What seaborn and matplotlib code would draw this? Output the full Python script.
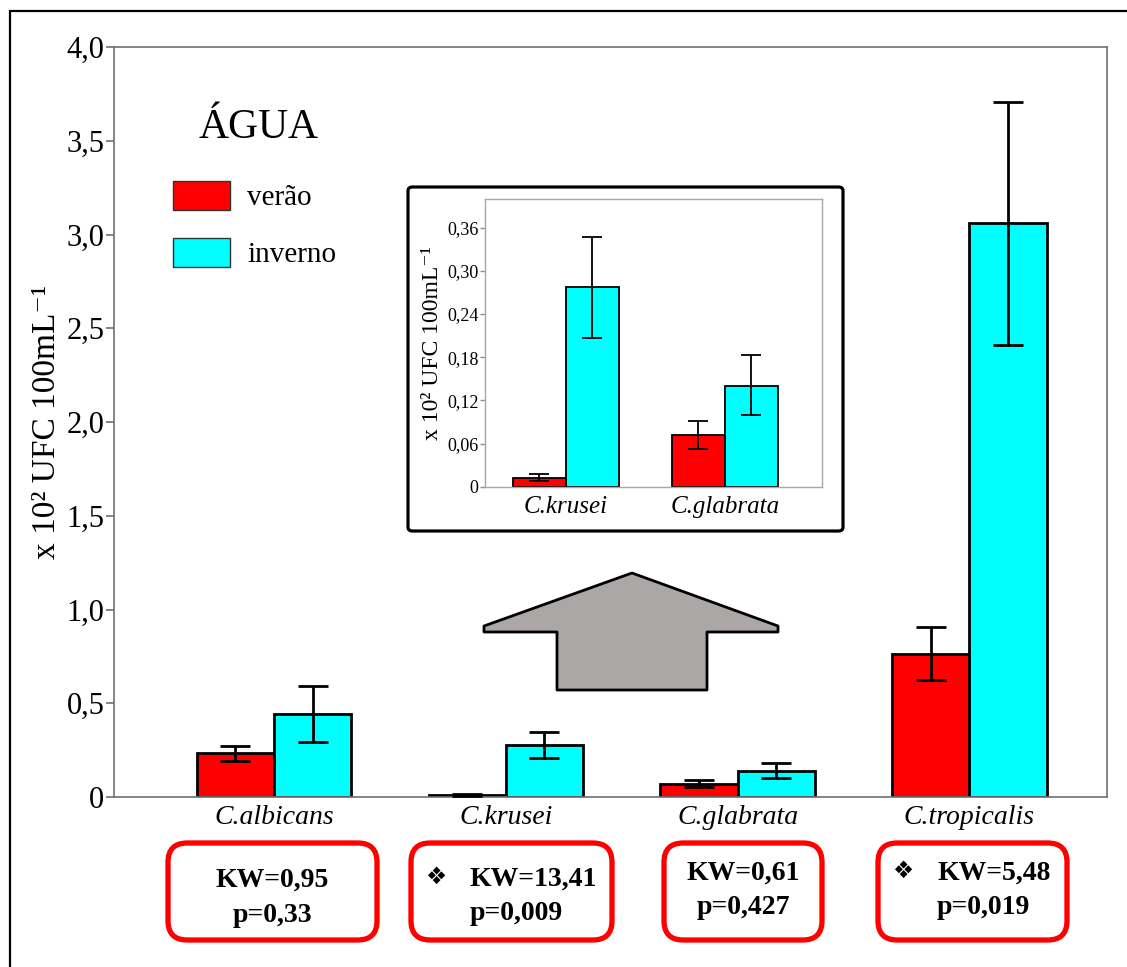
import numpy as np
import pandas as pd
import matplotlib
matplotlib.use("Agg")
import matplotlib.pyplot as plt
import seaborn as sns
from matplotlib.patches import Patch, FancyBboxPatch, Rectangle, Polygon

# ---------------- data ----------------
categories = ["C.albicans", "C.krusei", "C.glabrata", "C.tropicalis"]
seasons = ["verão", "inverno"]
verao_mean = [0.236, 0.0125, 0.072, 0.761]
verao_low = [0.192, 0.008, 0.053, 0.622]
verao_high = [0.274, 0.017, 0.092, 0.908]
inverno_mean = [0.441, 0.278, 0.140, 3.060]
inverno_low = [0.292, 0.207, 0.099, 2.411]
inverno_high = [0.594, 0.347, 0.183, 3.707]
inset_categories = ["C.krusei", "C.glabrata"]
main_yticks = [0, 0.5, 1.0, 1.5, 2.0, 2.5, 3.0, 3.5, 4.0]
main_yticklabels = ["0", "0,5", "1,0", "1,5", "2,0", "2,5", "3,0", "3,5", "4,0"]
inset_yticks = [0, 0.06, 0.12, 0.18, 0.24, 0.30, 0.36]
inset_yticklabels = ["0", "0,06", "0,12", "0,18", "0,24", "0,30", "0,36"]
kw_lines = ["KW=0,95", "KW=13,41", "KW=0,61", "KW=5,48"]
p_lines = ["p=0,33", "p=0,009", "p=0,427", "p=0,019"]
significant = [False, True, False, True]
title_text = "ÁGUA"
ylabel_text = "x 10\u00b2 UFC 100mL\u207b\u00b9"

colors = ["#ff0000", "#00ffff"]

df = pd.DataFrame({
    "especie": categories * 2,
    "estacao": [seasons[0]] * 4 + [seasons[1]] * 4,
    "valor": verao_mean + inverno_mean,
    "low": verao_low + inverno_low,
    "high": verao_high + inverno_high,
})

sns.set_style("white")
plt.rcParams["font.family"] = ["Liberation Serif", "DejaVu Serif", "DejaVu Sans"]
for k in ["text.color", "axes.labelcolor", "xtick.labelcolor", "ytick.labelcolor"]:
    plt.rcParams[k] = "black"

W, H = 1127, 967
fig = plt.figure(figsize=(W / 100, H / 100), dpi=100)
fig.patch.set_facecolor("white")


def fx(px):
    return px / W


def fy(py):
    return 1 - py / H


def draw(ax, data, cats, width, edge_lw, err_lw, capsize):
    sns.barplot(data=data, x="especie", y="valor", hue="estacao", order=cats,
                hue_order=seasons, palette=colors, saturation=1, width=width, gap=0,
                edgecolor="black", linewidth=edge_lw, errorbar=None,
                legend=False, ax=ax, zorder=2)
    for cont, s in zip(ax.containers, seasons):
        sub = data[data["estacao"] == s].set_index("especie").loc[cats]
        xs = [b.get_x() + b.get_width() / 2 for b in cont]
        m = sub["valor"].values
        lo = m - sub["low"].values
        hi = sub["high"].values - m
        ax.errorbar(xs, m, yerr=[lo, hi], fmt="none", ecolor="black",
                    elinewidth=err_lw, capsize=capsize, capthick=err_lw, zorder=3)


# ---------------- main axes ----------------
ax = fig.add_axes([fx(114), fy(797), fx(1107) - fx(114), fy(47) - fy(797)])
draw(ax, df, categories, 0.667, 2.0, 2.0, 11)
ax.set_xlim(-0.6906, 3.594)
ax.set_ylim(0, 4.0)
ax.set_yticks(main_yticks)
ax.set_yticklabels(main_yticklabels, fontsize=22)
ax.tick_params(axis="y", left=True, direction="out", length=6, width=1.2,
               color="#707070", labelcolor="black", pad=1)
ax.tick_params(axis="x", bottom=False, length=0, pad=6, labelcolor="black")
for lab in ax.get_xticklabels():
    lab.set_fontsize(20)
    lab.set_fontstyle("italic")
ax.set_xlabel("")
ax.set_ylabel(ylabel_text, fontsize=24, labelpad=3, color="black")
for sp in ax.spines.values():
    sp.set_color("#707070")
    sp.set_linewidth(1.2)
    sp.set_visible(True)

# legend
fpx = 21 * 100 / 72
leg = ax.legend(handles=[Patch(facecolor=c, edgecolor="#333333", linewidth=1.0) for c in colors],
                labels=seasons, loc="upper left",
                bbox_to_anchor=(fx(173), fy(181)), bbox_transform=fig.transFigure,
                frameon=False, borderpad=0, borderaxespad=0, fontsize=21,
                handlelength=57 / fpx, handleheight=33 / fpx,
                handletextpad=17 / fpx, labelspacing=27 / fpx)
for t in leg.get_texts():
    t.set_color("black")
fig.text(fx(259), fy(128), title_text, fontsize=30, ha="center", va="center", color="black")

# ---------------- arrow ----------------
arrow_pts = [(632, 573), (778, 626), (778, 632), (707, 632), (707, 690),
             (557, 690), (557, 632), (484, 632), (484, 626)]
fig.patches.append(Polygon([(fx(x), fy(y)) for x, y in arrow_pts], closed=True,
                           transform=fig.transFigure, facecolor="#aba7a7",
                           edgecolor="black", linewidth=2.0, joinstyle="round", zorder=5))

# ---------------- inset ----------------
fig.patches.append(FancyBboxPatch((fx(408), fy(531)), fx(843) - fx(408), fy(187) - fy(531),
                                  boxstyle="round,pad=0,rounding_size=0.004",
                                  transform=fig.transFigure, facecolor="white",
                                  edgecolor="black", linewidth=2.3, zorder=6))
iax = fig.add_axes([fx(485), fy(486.7), fx(822.3) - fx(485), fy(199) - fy(486.7)])
iax.set_zorder(10)
df_in = df[df["especie"].isin(inset_categories)]
draw(iax, df_in, inset_categories, 0.667, 1.3, 1.3, 7.5)
iax.set_xlim(-0.509, 1.612)
iax.set_ylim(0, 0.40)
iax.set_yticks(inset_yticks)
iax.set_yticklabels(inset_yticklabels, fontsize=13)
iax.tick_params(axis="y", left=True, direction="out", length=3.5, width=1.0,
                color="#909090", labelcolor="black", pad=1)
iax.tick_params(axis="x", bottom=False, length=0, pad=6.5, labelcolor="black")
for lab in iax.get_xticklabels():
    lab.set_fontsize(18)
    lab.set_fontstyle("italic")
iax.set_xlabel("")
iax.set_ylabel(ylabel_text, fontsize=17, labelpad=3, color="black")
for sp in iax.spines.values():
    sp.set_color("#a8a8a8")
    sp.set_linewidth(1.0)
    sp.set_visible(True)

# ---------------- statistic boxes ----------------
boxes = [(168, 377), (411, 612), (664, 822), (878, 1067)]
for (x0, x1), kw, p, sig in zip(boxes, kw_lines, p_lines, significant):
    fig.patches.append(FancyBboxPatch((fx(x0), fy(940)), fx(x1) - fx(x0), fy(843) - fy(940),
                                      boxstyle="round,pad=0,rounding_size=0.017",
                                      transform=fig.transFigure, facecolor="white",
                                      edgecolor="#ff0000", linewidth=3.8,
                                      mutation_aspect=W / H, zorder=5))
    if sig:
        xl = x0 + 59
        dy = 6 if x0 > 800 else 0
        fig.text(fx(x0 + 25), fy(876 - dy + 1), "\u2756", fontsize=17,
                 family="DejaVu Sans", ha="center", va="center", zorder=7, color="black")
        fig.text(fx(xl), fy(879 - dy), kw, fontsize=20, weight="bold",
                 ha="left", va="center", zorder=7, color="black")
        fig.text(fx(xl), fy(913 - dy), p, fontsize=20, weight="bold",
                 ha="left", va="center", zorder=7, color="black")
    else:
        cx = (x0 + x1) / 2
        dy = 7 if x0 > 600 else 0
        fig.text(fx(cx), fy(880 - dy), kw, fontsize=20, weight="bold",
                 ha="center", va="center", zorder=7, color="black")
        fig.text(fx(cx), fy(915 - dy), p, fontsize=20, weight="bold",
                 ha="center", va="center", zorder=7, color="black")

# ---------------- outer frame ----------------
fig.patches.append(Rectangle((fx(10), -0.05), 1.2, fy(11) + 0.05, transform=fig.transFigure,
                             fill=False, edgecolor="black", linewidth=1.6, zorder=8))

fig.savefig("out.png", dpi=100, facecolor="white")
